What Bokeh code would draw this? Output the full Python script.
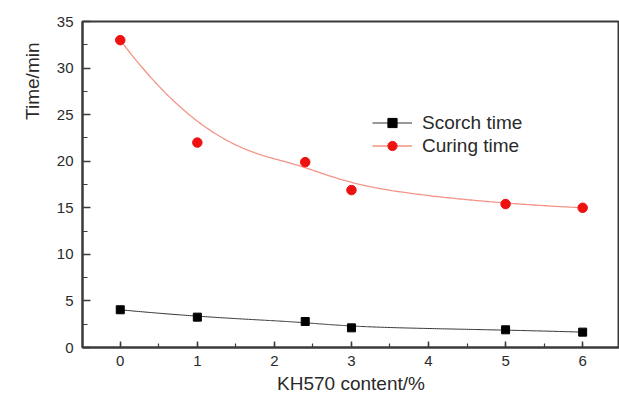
import numpy as np
from bokeh.plotting import figure
from bokeh.models import Range1d, Legend, LegendItem, FixedTicker, Title
from bokeh.embed import file_html
from bokeh.resources import INLINE

# ---- data ----
content = [0, 1, 2.4, 3, 5, 6]
scorch_time = [4.05, 3.26, 2.79, 2.11, 1.90, 1.65]
curing_time = [33.0, 22.0, 19.9, 16.9, 15.4, 15.0]
x_ticks = [0, 1, 2, 3, 4, 5, 6]
y_ticks = [0, 5, 10, 15, 20, 25, 30, 35]


def bspline(xs, ys, n=300, k=3):
    """Clamped cubic B-spline using the data points as control points (B-spline connect)."""
    ctrl = np.column_stack([xs, ys]).astype(float)
    m = len(ctrl)
    inner = np.linspace(0, 1, m - k + 1)
    knots = np.concatenate([[0.0] * k, inner, [1.0] * k])
    pts = []
    for t in np.linspace(0, 1, n):
        if t >= 1.0:
            s = m - 1
        else:
            s = int(np.searchsorted(knots, t, side="right") - 1)
        d = [ctrl[j + s - k].copy() for j in range(k + 1)]
        for r in range(1, k + 1):
            for j in range(k, r - 1, -1):
                den = knots[j + 1 + s - r] - knots[j + s - k]
                a = 0.0 if den == 0 else (t - knots[j + s - k]) / den
                d[j] = (1 - a) * d[j - 1] + a * d[j]
        pts.append(d[k])
    pts = np.array(pts)
    return pts[:, 0], pts[:, 1]


FONT = "Liberation Sans"
AX = "#3a3a3a"
TXT = "#2a2a2a"

p = figure(width=619, height=399, output_backend="svg", toolbar_location=None,
           x_range=Range1d(-0.49, 6.478), y_range=Range1d(0, 35),
           min_border_left=82, min_border_right=0, min_border_top=21,
           min_border_bottom=52)
p.grid.visible = False
p.background_fill_color = "white"
p.border_fill_color = "white"
p.outline_line_color = AX
p.outline_line_width = 2

for ax in (p.xaxis[0], p.yaxis[0]):
    ax.axis_line_color = AX
    ax.axis_line_width = 2
    ax.major_tick_line_color = AX
    ax.minor_tick_line_color = AX
    ax.major_tick_line_width = 1.5
    ax.minor_tick_line_width = 1.2
    ax.major_tick_out = 0
    ax.minor_tick_out = 0
    ax.major_label_text_font = FONT
    ax.major_label_text_font_size = "15px"
    ax.major_label_text_color = TXT

p.xaxis.ticker = FixedTicker(ticks=x_ticks, minor_ticks=list(np.arange(-0.5, 6.6, 0.5)))
p.yaxis.ticker = FixedTicker(ticks=y_ticks, minor_ticks=list(np.arange(0, 35.1, 2.5)))
p.xaxis.major_tick_in = 6
p.xaxis.minor_tick_in = 4
p.yaxis.major_tick_in = 8
p.yaxis.minor_tick_in = 5
p.xaxis.major_label_standoff = 8
p.yaxis.major_label_standoff = 9

p.xaxis.axis_label = "KH570 content/%"
p.xaxis.axis_label_text_font = FONT
p.xaxis.axis_label_text_font_style = "normal"
p.xaxis.axis_label_text_font_size = "19px"
p.xaxis.axis_label_text_color = TXT
p.xaxis.axis_label_standoff = 4

ytitle = Title(text="Time/min", align="right", offset=21, standoff=22,
               text_font=FONT, text_font_size="19px", text_font_style="normal",
               text_color=TXT)
p.add_layout(ytitle, "left")

sx, sy = bspline(content, scorch_time)
cx, cy = bspline(content, curing_time)

l1 = p.line(sx, sy, line_color="#333333", line_width=1)
m1 = p.scatter(content, scorch_time, marker="square", size=8,
               fill_color="black", line_color="black")
l2 = p.line(cx, cy, line_color="#f39385", line_width=1.3)
m2 = p.scatter(content, curing_time, marker="circle", size=9.5,
               fill_color="#ee1111", line_color="#ee1111")

legend = Legend(items=[LegendItem(label="Scorch time", renderers=[l1, m1]),
                       LegendItem(label="Curing time", renderers=[l2, m2])],
                location=(290, 190), padding=0, margin=0, spacing=0,
                glyph_width=40, glyph_height=23, label_height=23,
                label_standoff=10, label_text_font=FONT,
                label_text_font_size="19px", label_text_color=TXT,
                border_line_color=None, background_fill_alpha=0)
p.add_layout(legend)

open("out.html", "w").write(file_html(p, INLINE))
